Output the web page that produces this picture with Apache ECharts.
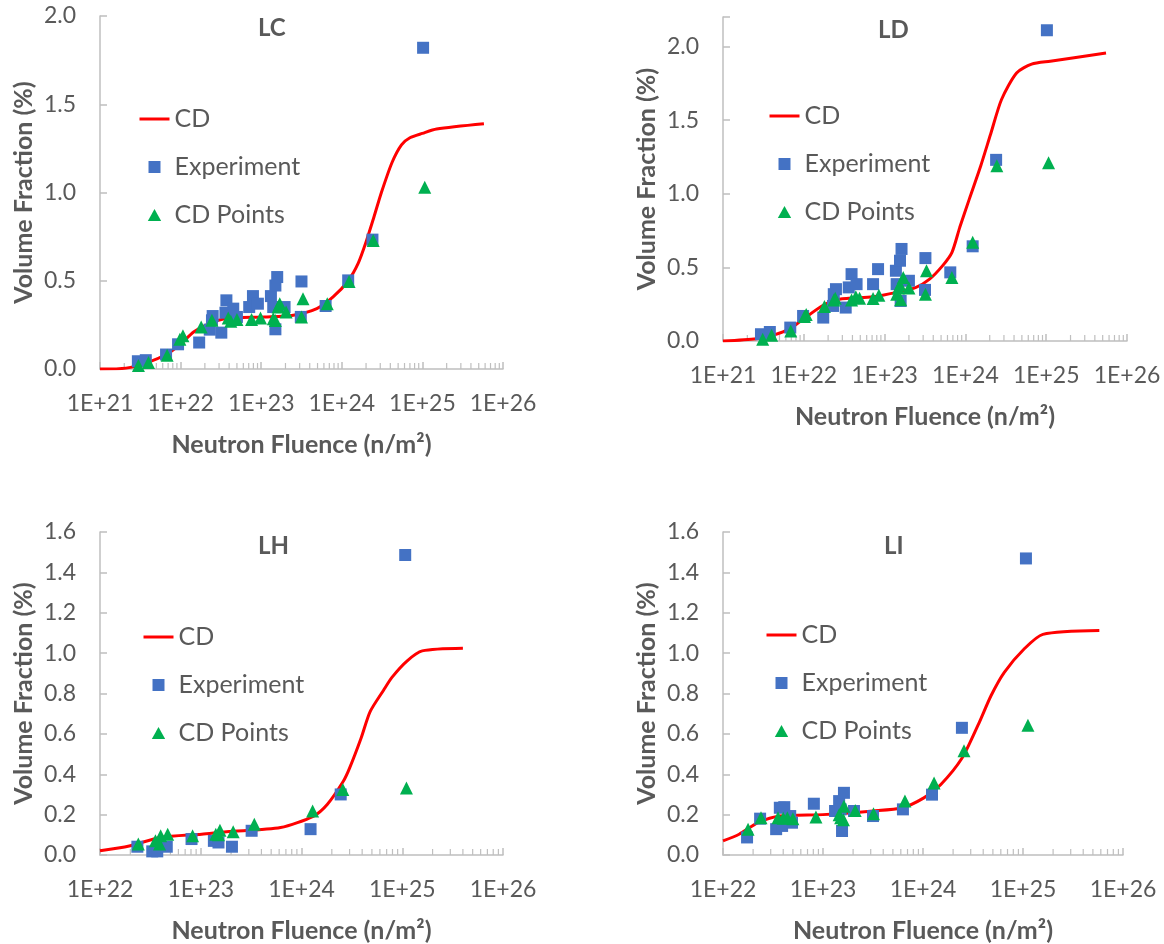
<!DOCTYPE html>
<html><head><meta charset="utf-8">
<script src="https://cdn.jsdelivr.net/npm/echarts@6/dist/echarts.min.js"></script>
<style>html,body{margin:0;padding:0;background:#fff}#c{width:1164px;height:944px}</style>
</head><body><div id="c"></div><script>
// ---- LC ----
const lcCurve = [[1e21,0.0],[2.1e21,0.005],[3.8e21,0.035],[6.8e21,0.085],[9.8e21,0.138],[1.45e22,0.21],[2.1e22,0.25],[3.5e22,0.285],[1.1e23,0.295],[2.5e23,0.305],[4.9e23,0.342],[7.8e23,0.408],[1.2e24,0.50],[1.6e24,0.60],[2.0e24,0.72],[2.5e24,0.86],[3.1e24,1.0],[4.2e24,1.17],[5.5e24,1.27],[7e24,1.31],[1e25,1.335],[1.5e25,1.36],[5.8e25,1.39]];
const lcExp = [[2.95e21,0.044],[3.7e21,0.05],[6.6e21,0.082],[9.3e21,0.14],[1.7e22,0.15],[2.3e22,0.223],[2.45e22,0.276],[2.5e22,0.30],[3.2e22,0.206],[3.7e22,0.389],[3.6e22,0.319],[4.5e22,0.342],[5.0e22,0.295],[7.1e22,0.351],[7.9e22,0.413],[9.1e22,0.37],[1.32e23,0.413],[1.5e23,0.473],[1.58e23,0.521],[1.41e23,0.351],[1.5e23,0.225],[1.95e23,0.351],[3.16e23,0.496],[3.1e23,0.295],[6.3e23,0.357],[1.2e24,0.502],[2.4e24,0.733],[1.02e25,1.82]];
const lcPts = [[3.0e21,0.02],[4.0e21,0.037],[6.8e21,0.078],[9.8e21,0.168],[1.07e22,0.188],[1.8e22,0.238],[2.45e22,0.276],[3.9e22,0.289],[4.2e22,0.27],[5.0e22,0.281],[7.6e22,0.281],[9.8e22,0.289],[1.41e23,0.285],[1.5e23,0.275],[1.62e23,0.351],[1.7e23,0.37],[2.04e23,0.323],[3.3e23,0.398],[3.16e23,0.295],[6.6e23,0.37],[1.23e24,0.496],[2.45e24,0.728],[1.07e25,1.03]];
// ---- LD ----
const ldCurve = [[1e21,0.0],[2.6e21,0.016],[4.2e21,0.04],[6.8e21,0.084],[9.8e21,0.148],[1.74e22,0.243],[2.75e22,0.284],[7.2e22,0.30],[1.41e23,0.33],[2.45e23,0.364],[3.6e23,0.42],[5.2e23,0.51],[6.8e23,0.60],[8.5e23,0.77],[1.12e24,0.965],[1.55e24,1.19],[2.04e24,1.40],[2.8e24,1.64],[4.3e24,1.82],[6.6e24,1.88],[1.12e25,1.90],[5.5e25,1.955]];
const ldExp = [[2.95e21,0.046],[3.8e21,0.061],[6.8e21,0.091],[9.8e21,0.17],[1.74e22,0.159],[2.3e22,0.238],[2.35e22,0.318],[2.5e22,0.352],[3.3e22,0.227],[3.9e22,0.454],[3.6e22,0.364],[4.5e22,0.386],[7.2e22,0.386],[8.3e22,0.488],[1.38e23,0.477],[1.55e23,0.545],[1.62e23,0.625],[1.41e23,0.386],[1.58e23,0.272],[2.0e23,0.409],[3.2e23,0.563],[3.16e23,0.347],[6.5e23,0.466],[1.23e24,0.643],[2.4e24,1.23],[1.02e25,2.11]];
const ldPts = [[3.1e21,0.012],[4.0e21,0.039],[6.9e21,0.068],[1.02e22,0.166],[1.07e22,0.18],[1.8e22,0.234],[2.35e22,0.279],[2.45e22,0.29],[3.9e22,0.279],[4.4e22,0.30],[4.9e22,0.29],[7.2e22,0.289],[8.5e22,0.311],[1.41e23,0.318],[1.48e23,0.36],[1.55e23,0.38],[1.7e23,0.432],[1.58e23,0.28],[2.0e23,0.36],[3.3e23,0.477],[3.2e23,0.318],[6.8e23,0.432],[1.23e24,0.67],[2.45e24,1.19],[1.07e25,1.21]];
// ---- LH ----
const lhCurve = [[1e22,0.021],[1.95e22,0.045],[4e22,0.087],[1.02e23,0.103],[1.8e23,0.115],[6.2e23,0.136],[1.32e24,0.193],[1.8e24,0.25],[2.6e24,0.365],[3.0e24,0.43],[3.9e24,0.578],[4.8e24,0.71],[6.5e24,0.815],[7.9e24,0.88],[1.12e25,0.962],[1.58e25,1.011],[4e25,1.024]];
const lhExp = [[2.35e22,0.041],[3.3e22,0.018],[3.7e22,0.018],[4.6e22,0.041],[8.1e22,0.079],[1.35e23,0.07],[1.5e23,0.062],[2.04e23,0.041],[3.2e23,0.12],[1.23e24,0.128],[2.45e24,0.30],[1.07e25,1.486]];
const lhPts = [[2.4e22,0.054],[3.55e22,0.07],[4.0e22,0.095],[3.9e22,0.054],[4.7e22,0.103],[8.3e22,0.095],[1.41e23,0.103],[1.55e23,0.123],[1.5e23,0.1],[2.1e23,0.115],[3.4e23,0.152],[1.29e24,0.218],[2.57e24,0.324],[1.1e25,0.332]];
// ---- LI ----
const liCurve = [[1e22,0.07],[1.45e22,0.103],[2.24e22,0.16],[3.7e22,0.193],[1e23,0.2],[3.16e23,0.218],[6.2e23,0.234],[1.02e24,0.283],[1.5e24,0.348],[2.45e24,0.479],[3.55e24,0.643],[4.8e24,0.79],[6.5e24,0.905],[1.02e25,1.019],[1.58e25,1.093],[5.8e25,1.112]];
const liExp = [[1.74e22,0.087],[2.35e22,0.18],[3.4e22,0.128],[3.7e22,0.234],[4.1e22,0.237],[3.9e22,0.144],[4.7e22,0.193],[4.9e22,0.16],[8.1e22,0.254],[1.32e23,0.218],[1.45e23,0.267],[1.55e23,0.119],[1.62e23,0.308],[1.5e23,0.226],[2.04e23,0.218],[3.16e23,0.193],[6.3e23,0.226],[1.23e24,0.299],[2.45e24,0.63],[1.07e25,1.469]];
const liPts = [[1.78e22,0.128],[2.4e22,0.185],[3.55e22,0.185],[4.0e22,0.182],[4.4e22,0.185],[5.0e22,0.18],[8.5e22,0.188],[1.45e23,0.2],[1.5e23,0.185],[1.6e23,0.175],[1.62e23,0.242],[2.1e23,0.221],[3.2e23,0.204],[6.6e23,0.267],[1.29e24,0.357],[2.57e24,0.517],[1.12e25,0.643]];

const panelTitles = ['LC','LD','LH','LI'];
const seriesNames = ['CD','Experiment','CD Points'];
const xAxisTitle = 'Neutron Fluence (n/m²)';
const yAxisTitle = 'Volume Fraction (%)';
// Excel-style log-axis minor tick multipliers within each decade
const minorMultipliers = [2,3,4,5,6,7,8,9];

const FONT = 'Lato, "Open Sans", sans-serif';
const TXT = '#595959';
const AX = '#bfbfbf';
const RED = '#ff0000', BLUE = '#4472c4', GREEN = '#00b050';

const panels = [
  {curve: lcCurve, exp: lcExp, pts: lcPts, xMin: 1e21, yMax: 2.0, yInt: 0.5,
   grid: {left: 100, top: 16, width: 403, height: 353}, title: {left: 253, top: 11}, legend: {left: 133, top: 100}},
  {curve: ldCurve, exp: ldExp, pts: ldPts, xMin: 1e21, yMax: 2.2, yInt: 0.5,
   grid: {left: 723, top: 17, width: 404, height: 324}, title: {left: 873, top: 13}, legend: {left: 763, top: 97}},
  {curve: lhCurve, exp: lhExp, pts: lhPts, xMin: 1e22, yMax: 1.6, yInt: 0.2,
   grid: {left: 100, top: 532, width: 403, height: 326}, title: {left: 253, top: 529}, legend: {left: 137, top: 618}},
  {curve: liCurve, exp: liExp, pts: liPts, xMin: 1e22, yMax: 1.6, yInt: 0.2,
   grid: {left: 723, top: 532, width: 400, height: 326}, title: {left: 879, top: 529}, legend: {left: 760, top: 616}}
];

const option = {
  backgroundColor: '#ffffff',
  animation: false,
  textStyle: {fontFamily: FONT},
  title: [], grid: [], xAxis: [], yAxis: [], legend: [], series: []
};

panels.forEach((p, i) => {
  option.title.push({text: panelTitles[i], left: p.title.left, top: p.title.top,
    textStyle: {fontFamily: FONT, fontSize: 24, fontWeight: 'bold', color: TXT}});
  option.grid.push(Object.assign({containLabel: false}, p.grid));
  option.xAxis.push({
    gridIndex: i, type: 'log', logBase: 10, min: p.xMin, max: 1e26,
    name: xAxisTitle, nameLocation: 'middle', nameGap: 63,
    nameTextStyle: {fontFamily: FONT, fontSize: 25, fontWeight: 'bold', color: TXT},
    axisLine: {show: true, onZero: false, lineStyle: {color: AX, width: 1.5}},
    axisTick: {show: true, inside: true, length: 7, lineStyle: {color: AX, width: 1.5}},
    splitLine: {show: false},
    axisLabel: {margin: 23, fontFamily: FONT, fontSize: 23, color: TXT,
      formatter: v => '1E+' + Math.round(Math.log10(v))}
  });
  option.yAxis.push({
    gridIndex: i, type: 'value', min: 0, max: p.yMax, interval: p.yInt,
    name: yAxisTitle, nameLocation: 'middle', nameGap: 64, nameRotate: 90,
    nameTextStyle: {fontFamily: FONT, fontSize: 25, fontWeight: 'bold', color: TXT},
    axisLine: {show: true, lineStyle: {color: AX, width: 1.5}},
    axisTick: {show: true, inside: true, length: 7, lineStyle: {color: AX, width: 1.5}},
    splitLine: {show: false},
    axisLabel: {margin: 24, fontFamily: FONT, fontSize: 23, color: TXT,
      formatter: v => (Math.abs(v / p.yInt - Math.round(v / p.yInt)) < 1e-6 ? v.toFixed(1) : '')}
  });
  option.legend.push({
    orient: 'vertical', left: p.legend.left, top: p.legend.top,
    itemWidth: 30, itemHeight: 12, itemGap: 20, symbolKeepAspect: true,
    textStyle: {fontFamily: FONT, fontSize: 25, color: TXT, lineHeight: 28},
    data: [
      {name: seriesNames[0], itemStyle: {opacity: 0}, lineStyle: {color: RED, width: 3}},
      {name: seriesNames[1], icon: 'path://M0,0H10V10H0Z'},
      {name: seriesNames[2], icon: 'path://M5,0L10,9H0Z'}
    ]
  });
  option.series.push({
    name: seriesNames[0], type: 'line', xAxisIndex: i, yAxisIndex: i, data: p.curve,
    symbol: 'none', smooth: 0.25,
    lineStyle: {color: RED, width: 3}, itemStyle: {color: RED}, z: 2
  });
  option.series.push({
    name: seriesNames[1], type: 'scatter', xAxisIndex: i, yAxisIndex: i, data: p.exp,
    symbol: 'rect', symbolSize: 12, itemStyle: {color: BLUE, opacity: 1}, z: 3
  });
  option.series.push({
    name: seriesNames[2], type: 'scatter', xAxisIndex: i, yAxisIndex: i, data: p.pts,
    symbol: 'triangle', symbolSize: 13, itemStyle: {color: GREEN, opacity: 1}, z: 4
  });
  // minor ticks on the log axis (axis decoration drawn through the axis scale)
  const minorData = [];
  for (let e = Math.round(Math.log10(p.xMin)); e < 26; e++) {
    minorMultipliers.forEach(m => minorData.push([m * Math.pow(10, e), 0]));
  }
  option.series.push({
    name: 'minorTicks', type: 'custom', xAxisIndex: i, yAxisIndex: i, data: minorData,
    silent: true, z: 1, clip: false,
    renderItem: (params, api) => {
      const pt = api.coord([api.value(0), 0]);
      return {type: 'line', shape: {x1: pt[0], y1: pt[1], x2: pt[0], y2: pt[1] - 6},
        style: {stroke: AX, lineWidth: 1.2}};
    }
  });
});

const chart = echarts.init(document.getElementById('c'), null, {renderer: 'canvas'});
chart.setOption(option);
</script></body></html>
